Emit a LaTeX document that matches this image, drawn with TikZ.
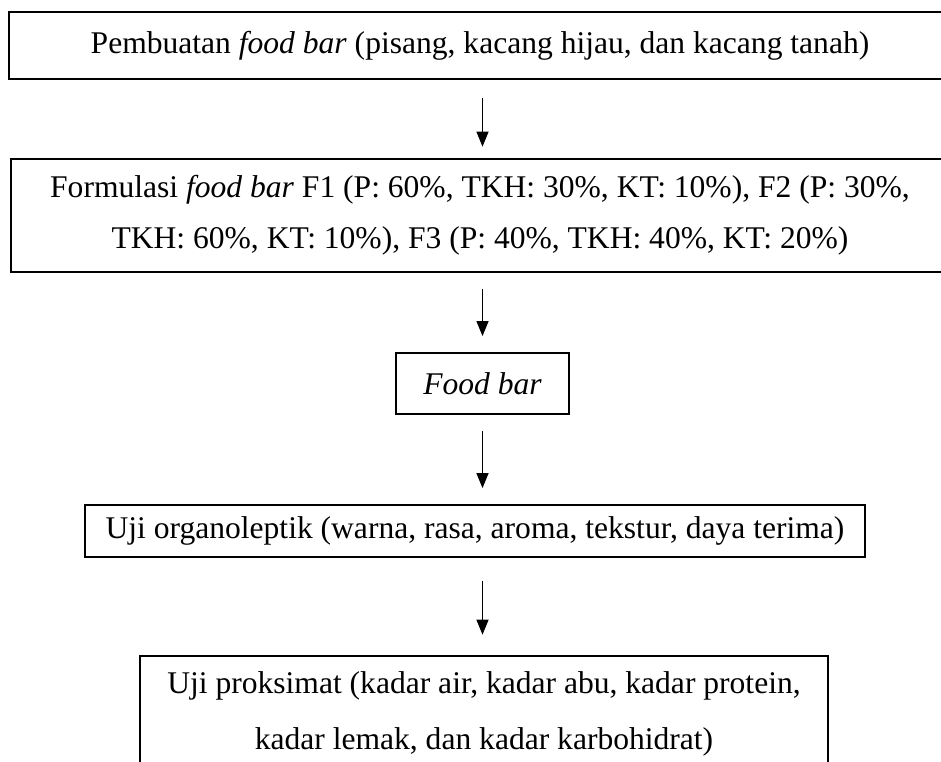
\documentclass[tikz,border=0pt]{standalone}
\usepackage{fontspec}
\setmainfont{Liberation Serif}
\usetikzlibrary{arrows.meta}

\begin{document}
\begin{tikzpicture}[x=0.4435pt, y=-0.4435pt,
  box/.style={draw, line width=0.9pt, inner sep=3pt, align=center,
    font=\fontsize{14}{22.6}\selectfont},
  arr/.style={-{Triangle[width=5.3pt,length=6.7pt]}, line width=0.7pt,
    shorten <=7pt, shorten >=7pt}]

\useasboundingbox (0,0) rectangle (941,762);
\clip (0,0) rectangle (941,762);

% Steps
\node[box, minimum width=417.8pt, minimum height=29.7pt] (pembuatan) at (480,45.5)
  {Pembuatan \textit{food bar} (pisang, kacang hijau, dan kacang tanah)};
\node[box, minimum width=416pt, minimum height=50.1pt] (formulasi) at (480,215.5)
  {Formulasi \textit{food bar} F1 (P: 60\%, TKH: 30\%, KT: 10\%), F2 (P: 30\%,\\
   TKH: 60\%, KT: 10\%), F3 (P: 40\%, TKH: 40\%, KT: 20\%)};
\node[box, minimum width=76.7pt, minimum height=27.1pt] (foodbar) at (482.5,383.5)
  {\textit{Food bar}};
\node[box, minimum width=345.9pt, minimum height=23.1pt] (organo) at (475,531)
  {Uji organoleptik (warna, rasa, aroma, tekstur, daya terima)};
\node[box, minimum width=305.1pt, minimum height=51.4pt,
  font=\fontsize{14}{25}\selectfont] (proksimat) at (484,714)
  {Uji proksimat (kadar air, kadar abu, kadar protein,\\
   kadar lemak, dan kadar karbohidrat)};

% Arrows
\draw[arr, shorten <=8pt, shorten >=5pt] (pembuatan.south -| foodbar) -- (formulasi.north -| foodbar);
\draw[arr] (formulasi.south -| foodbar) -- (foodbar.north);
\draw[arr] (foodbar.south) -- (organo.north -| foodbar);
\draw[arr, shorten <=10pt, shorten >=9pt] (organo.south -| foodbar) -- (proksimat.north -| foodbar);

\end{tikzpicture}
\end{document}
